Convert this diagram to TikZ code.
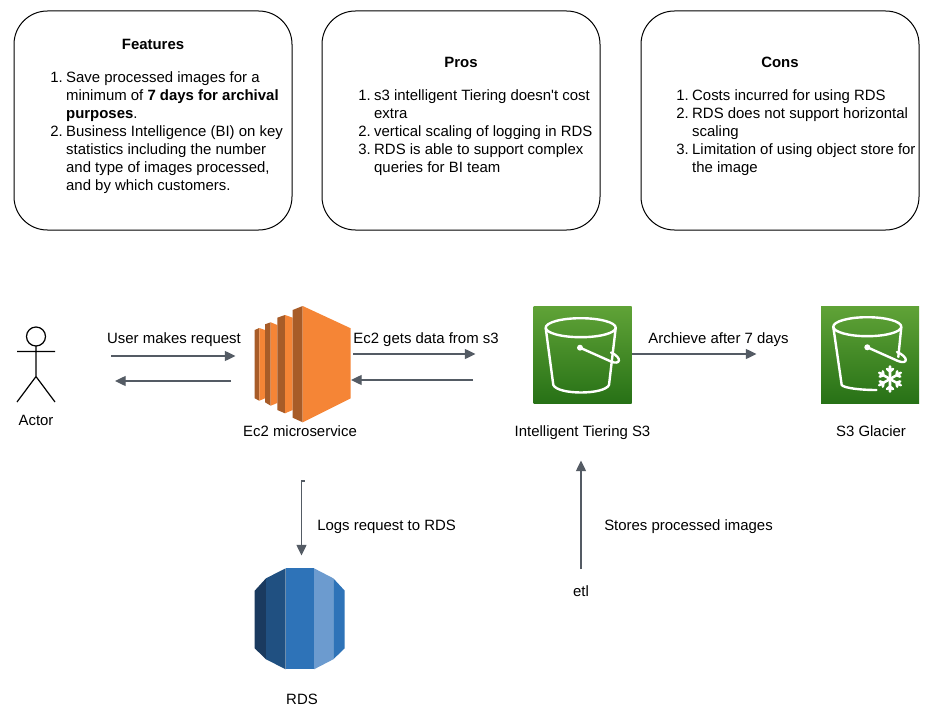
\documentclass[tikz,border=0pt]{standalone}
\usepackage{fontspec}
\setmainfont{Liberation Sans}
\usetikzlibrary{arrows.meta}
\definecolor{linegray}{HTML}{545B64}
\definecolor{ecorange}{HTML}{F58536}
\definecolor{ecmid}{HTML}{A85C28}
\definecolor{bucktop}{HTML}{60A337}
\definecolor{buckbot}{HTML}{277116}
\definecolor{rdsa}{HTML}{1A3A5F}
\definecolor{rdsb}{HTML}{205081}
\definecolor{rdsc}{HTML}{2E73B8}
\definecolor{rdsd}{HTML}{6C9BCF}
\tikzset{
  txt/.style={font=\fontsize{11.2}{13.5}\selectfont, inner sep=0pt, text=black},
  infobox/.style={draw=black, line width=0.75pt, rounded corners=25pt},
  flow/.style={draw=linegray, line width=1pt, -{Triangle[length=8pt,width=7.5pt]}},
  buck/.style={draw=white, line width=1.8pt, line cap=round, line join=round},
}
\newcommand{\greenbox}[2]{\shade[top color=bucktop, bottom color=buckbot] (#1,#2) rectangle ++(98,97.5);}
\begin{document}
\begin{tikzpicture}[x=0.75pt,y=-0.75pt]
    \useasboundingbox (0,0) rectangle (946,713);
    \fill[white] (0,0) rectangle (946,713);

    % top boxes
    \draw[infobox] (14,11) rectangle (292,230);
    \draw[infobox] (322,11) rectangle (600,230);
    \draw[infobox] (641,11) rectangle (919,230);
    \node[txt] (featurestitle) at (153,44) {\bfseries Features};
    \node[txt] (prostitle) at (461,62) {\bfseries Pros};
    \node[txt] (constitle) at (780,62) {\bfseries Cons};
    \node[txt, anchor=north west] (featurestext) at (50,70) {\begin{tabular}{@{}l@{\hspace{2.6pt}}l@{}}
      1. & Save processed images for a\\
         & minimum of \textbf{7 days for archival}\\
         & \textbf{purposes}.\\
      2. & Business Intelligence (BI) on key\\
         & statistics including the number\\
         & and type of images processed,\\
         & and by which customers.
    \end{tabular}};
    \node[txt, anchor=north west] (prostext) at (358,88) {\begin{tabular}{@{}l@{\hspace{2.6pt}}l@{}}
      1. & s3 intelligent Tiering doesn\textquotesingle t cost\\
         & extra\\
      2. & vertical scaling of logging in RDS\\
      3. & RDS is able to support complex\\
         & queries for BI team
    \end{tabular}};
    \node[txt, anchor=north west] (constext) at (676,88) {\begin{tabular}{@{}l@{\hspace{2.6pt}}l@{}}
      1. & Costs incurred for using RDS\\
      2. & RDS does not support horizontal\\
         & scaling\\
      3. & Limitation of using object store for\\
         & the image
    \end{tabular}};

    % actor
    \draw[black, line width=0.9pt] (36,336.5) circle (9.5);
    \draw[black, line width=0.9pt] (36,346) -- (36,376.5) (17,351.5) -- (55,351.5) (17,402) -- (36,376.5) -- (55,402);
    \node[txt] (actor) at (36,420) {Actor};

    % ec2
    \fill[ecmid] (254.7,330) -- (259.3,328) -- (259.3,400.7) -- (254.7,398.3) -- cycle;
    \fill[ecorange] (259.3,328) -- (265,330) -- (265,398.3) -- (259.3,400.7) -- cycle;
    \fill[ecmid] (265,324.3) -- (270.7,322.3) -- (270.7,405.7) -- (265,402.3) -- cycle;
    \fill[ecorange] (270.7,322.3) -- (277.3,325) -- (277.3,403) -- (270.7,405.7) -- cycle;
    \fill[ecmid] (277.3,317.7) -- (285,315) -- (285,413.3) -- (277.3,410) -- cycle;
    \fill[ecorange] (285,315) -- (292.7,317.7) -- (292.7,410) -- (285,413.3) -- cycle;
    \fill[ecmid] (292.7,310) -- (302.7,306) -- (302.7,422.3) -- (292.7,417.7) -- cycle;
    \fill[ecorange] (302.7,306) -- (350.7,328.3) -- (350.7,398.3) -- (302.7,422.3) -- cycle;
    \node[txt] (ecname) at (300,431) {Ec2 microservice};

    % s3
    \greenbox{533.5}{306}
    \draw[buck] (580.7,327.7) ellipse [x radius=35, y radius=9.5];
    \draw[buck] (545.7,328) -- (553.3,385) .. controls (558,395) and (604,395) .. (609,385) -- (615.7,328);
    \fill[white] (580,347.7) circle (3);
    \draw[buck] (580,347.7) -- (611,361.5) .. controls (620,365.5) and (623,358) .. (611,352.5);
    \node[txt] (sthree) at (582.5,433) {Intelligent Tiering S3};

    % glacier
    \greenbox{821}{306}
    \draw[buck] (867.3,326.7) ellipse [x radius=34, y radius=9.5];
    \draw[buck] (833.3,327) -- (841.7,385) .. controls (844,388) and (860,390) .. (876.5,390);
    \draw[buck] (901.3,327) -- (898.3,357);
    \fill[white] (867.3,347.3) circle (3);
    \draw[buck] (867.3,347.3) -- (898,361) .. controls (908,365) and (909,357) .. (897,352);
    \begin{scope}[shift={(890,379)}]
      \foreach \ang in {30,90,...,330}
        \draw[buck, line width=1.9pt] (0,0) -- (\ang:12.5) (\ang:7.5) -- ++(\ang+50:4) (\ang:7.5) -- ++(\ang-50:4);
    \end{scope}
    \node[txt] (glacier) at (871,431) {S3 Glacier};

    % rds
    \fill[rdsa] (254.7,590.7) -- (266,578.3) -- (266,659.3) -- (254.7,648.3) -- cycle;
    \fill[rdsb] (266,578.3) -- (285.7,568.3) -- (285.7,669.3) -- (266,659.3) -- cycle;
    \fill[rdsc] (285.7,568.3) rectangle (314,669.3);
    \fill[rdsd] (314,568.3) -- (333.3,578.3) -- (333.3,659.3) -- (314,669.3) -- cycle;
    \fill[rdsc] (333.3,578.3) -- (344.7,590.7) -- (344.7,648.3) -- (333.3,659.3) -- cycle;
    \node[txt] (rds) at (302,699) {RDS};
    \node[txt] (etl) at (581,591) {etl};

    % connector ends
    \coordinate (reqa) at (111,356);
    \coordinate (reqb) at (235.5,356);
    \coordinate (repa) at (231,381);
    \coordinate (repb) at (115,381);
    \coordinate (geta) at (353,354);
    \coordinate (getb) at (475.5,354);
    \coordinate (seta) at (473,380);
    \coordinate (setb) at (351,380);
    \coordinate (arca) at (632,354);
    \coordinate (arcb) at (756.5,354);
    \coordinate (logh) at (304.5,481);
    \coordinate (loga) at (301.5,481);
    \coordinate (logb) at (301.5,555.5);
    \coordinate (etla) at (581,569);
    \coordinate (etlb) at (581,460.5);

    \draw[flow] (reqa) -- (reqb);
    \draw[flow] (repa) -- (repb);
    \draw[flow] (geta) -- (getb);
    \draw[flow] (seta) -- (setb);
    \draw[flow] (arca) -- (arcb);
    \draw[flow] (logh) -- (loga) -- (logb);
    \draw[flow] (etla) -- (etlb);

    \node[txt] (reqlabel) at (174,340) {User makes request};
    \node[txt] (getlabel) at (426,340) {Ec2 gets data from s3};
    \node[txt] (arclabel) at (718.5,340) {Archieve after 7 days};
    \node[txt, anchor=west] (loglabel) at (317,527) {Logs request to RDS};
    \node[txt, anchor=west] (etllabel) at (604,527) {Stores processed images};
\end{tikzpicture}
\end{document}
